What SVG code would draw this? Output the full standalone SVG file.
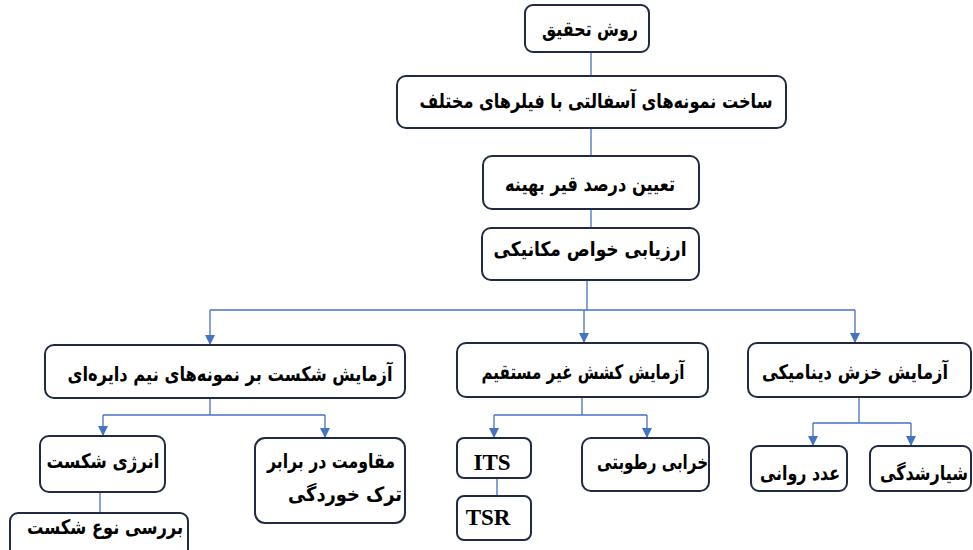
<svg xmlns="http://www.w3.org/2000/svg" width="973" height="550" viewBox="0 0 973 550">
<defs>
<marker id="arr" viewBox="0 0 10 10" refX="10" refY="5" markerWidth="10" markerHeight="10" markerUnits="userSpaceOnUse" orient="auto">
<path d="M0,0 L10,5 L0,10 z" fill="#4472C4"/>
</marker>
<style>
.box{fill:#fff;stroke:#1F2A44;stroke-width:2}
.c{fill:none;stroke:#4472C4;stroke-width:1.3}
.a{marker-end:url(#arr)}
.t{font-family:"DejaVu Sans",sans-serif;font-weight:bold;font-size:20px;fill:#000}
.m{text-anchor:middle}
.e{text-anchor:end}
.l{font-family:"Liberation Serif",serif;font-weight:bold;font-size:23px;fill:#000;text-anchor:middle}
</style>
</defs>
<rect width="973" height="550" fill="#fff"/>
<g id="connectors">
<path class="c" d="M591,52 V76"/>
<path class="c" d="M591,128 V156"/>
<path class="c" d="M591,209 V228"/>
<path class="c" d="M587,270 V310"/>
<path class="c" d="M210,310 H855"/>
<path class="c a" d="M210,310 V345"/>
<path class="c a" d="M584,310 V343"/>
<path class="c a" d="M855,310 V343"/>
<path class="c" d="M210,398 V415 M103,415 H325"/>
<path class="c a" d="M103,415 V436"/>
<path class="c a" d="M325,415 V438"/>
<path class="c" d="M100,492 V513"/>
<path class="c" d="M582,397 V415 M494,415 H647"/>
<path class="c a" d="M494,415 V438"/>
<path class="c a" d="M647,415 V438"/>
<path class="c" d="M497,478 V496"/>
<path class="c" d="M859,397 V423 M813,423 H911"/>
<path class="c a" d="M813,423 V446"/>
<path class="c a" d="M911,423 V446"/>
</g>
<g id="n1"><rect class="box" x="525" y="5" width="124" height="47" rx="8"/><text class="t m" x="590" y="36" textLength="96" lengthAdjust="spacingAndGlyphs">روش تحقیق</text></g>
<g id="n2"><rect class="box" x="397" y="76" width="389" height="52" rx="9"/><text class="t m" x="596" y="108" textLength="353" lengthAdjust="spacingAndGlyphs">ساخت نمونه‌های آسفالتی با فیلرهای مختلف</text></g>
<g id="n3"><rect class="box" x="483" y="156" width="216" height="53" rx="9"/><text class="t m" x="590" y="191" textLength="170" lengthAdjust="spacingAndGlyphs">تعیین درصد قیر بهینه</text></g>
<g id="n4"><rect class="box" x="482" y="228" width="217" height="52" rx="9"/><text class="t m" x="590" y="256" textLength="193" lengthAdjust="spacingAndGlyphs">ارزیابی خواص مکانیکی</text></g>
<g id="n5"><rect class="box" x="45" y="345" width="360" height="53" rx="9"/><text class="t m" x="230" y="381" textLength="325" lengthAdjust="spacingAndGlyphs">آزمایش شکست بر نمونه‌های نیم دایره‌ای</text></g>
<g id="n6"><rect class="box" x="457" y="343" width="251" height="54" rx="9"/><text class="t m" x="583" y="379" textLength="203" lengthAdjust="spacingAndGlyphs">آزمایش کشش غیر مستقیم</text></g>
<g id="n7"><rect class="box" x="748" y="343" width="223" height="54" rx="9"/><text class="t m" x="855" y="379" textLength="186" lengthAdjust="spacingAndGlyphs">آزمایش خزش دینامیکی</text></g>
<g id="n8"><rect class="box" x="40" y="436" width="125" height="56" rx="9"/><text class="t m" x="103" y="468" textLength="113" lengthAdjust="spacingAndGlyphs">انرژی شکست</text></g>
<g id="n9"><rect class="box" x="255" y="438" width="150" height="85" rx="10"/><text class="t e" x="395" y="468" textLength="128" lengthAdjust="spacingAndGlyphs">مقاومت در برابر</text><text class="t e" x="402" y="501" textLength="114" lengthAdjust="spacingAndGlyphs">ترک خوردگی</text></g>
<g id="n10"><rect class="box" x="10" y="513" width="178" height="45" rx="8"/><text class="t m" x="105" y="534" textLength="156" lengthAdjust="spacingAndGlyphs">بررسی نوع شکست</text></g>
<g id="n11"><rect class="box" x="457" y="438" width="74" height="40" rx="7"/><text class="l" x="492" y="470">ITS</text></g>
<g id="n12"><rect class="box" x="457" y="496" width="74" height="44" rx="7"/><text class="l" x="488" y="525">TSR</text></g>
<g id="n13"><rect class="box" x="582" y="438" width="127" height="53" rx="9"/><text class="t e" x="708" y="469" textLength="111" lengthAdjust="spacingAndGlyphs">خرابی رطوبتی</text></g>
<g id="n14"><rect class="box" x="751" y="446" width="96" height="45" rx="8"/><text class="t m" x="800" y="480" textLength="80" lengthAdjust="spacingAndGlyphs">عدد روانی</text></g>
<g id="n15"><rect class="box" x="870" y="446" width="101" height="45" rx="8"/><text class="t e" x="968" y="480" textLength="88" lengthAdjust="spacingAndGlyphs">شیارشدگی</text></g>
</svg>
